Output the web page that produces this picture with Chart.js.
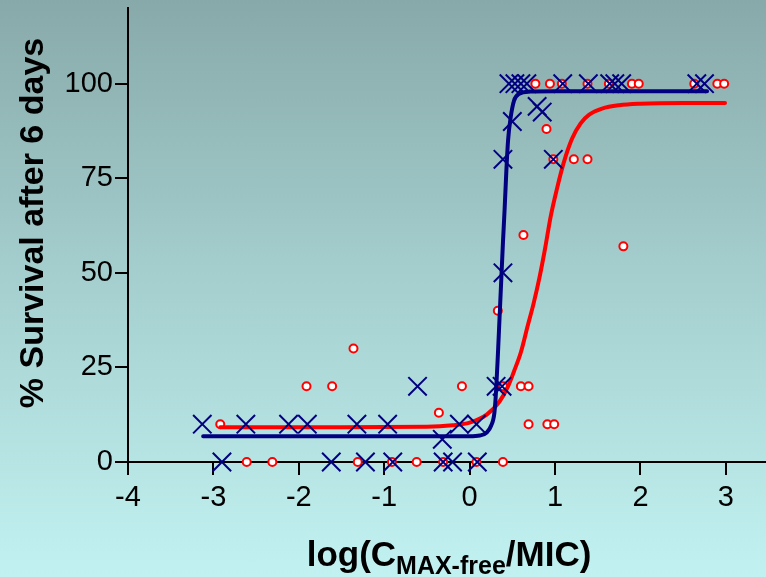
<!DOCTYPE html>
<html>
<head>
  <title>Survival vs log(Cmax-free/MIC)</title>
  <script src="https://cdn.jsdelivr.net/npm/chart.js@4.4.1/dist/chart.umd.min.js"></script>
  <style>
    html, body {
      margin: 0;
      padding: 0;
    }
    body {
      width: 766px;
      height: 577px;
      background: linear-gradient(to bottom, #88a9a9 0%, #a6d0d0 50%, #c1f2f1 100%);
      overflow: hidden;
    }
    #chart {
      display: block;
    }
  </style>
</head>
<body>
  <canvas id="chart" width="766" height="577"></canvas>

  <script>
    // open circles (red)
    const circleX = [0.77, 0.94, 1.08, 1.38, 1.63, 1.90, 1.98, 2.63, 2.90, 2.98,
                     0.90, 0.98, 1.22, 1.38, 0.63, 1.80, 0.33, -1.36,
                     -1.91, -1.61, -0.09, 0.39, 0.60, 0.69, -0.36,
                     -2.92, 0.69, 0.91, 0.99,
                     -2.61, -2.31, -1.31, -0.91, -0.62, -0.31, 0.08, 0.39];
    const circleY = [100, 100, 100, 100, 100, 100, 100, 100, 100, 100,
                     88, 80, 80, 80, 60, 57, 40, 30,
                     20, 20, 20, 20, 20, 20, 13,
                     10, 10, 10, 10,
                     0, 0, 0, 0, 0, 0, 0, 0];

    // crosses (navy)
    const crossX = [0.46, 0.53, 0.60, 0.67, 1.09, 1.39, 1.64, 1.70, 1.78, 2.66, 2.75,
                    0.79, 0.85, 0.50, 0.39, 0.98, 0.39,
                    -0.61, 0.31, 0.38,
                    -3.13, -2.62, -2.12, -1.90, -1.32, -0.96, -0.12, 0.08,
                    -0.32,
                    -2.90, -1.62, -1.22, -0.90, -0.31, -0.20, 0.09];
    const crossY = [100, 100, 100, 100, 100, 100, 100, 100, 100, 100, 100,
                    94, 92.5, 90, 80, 80, 50,
                    20, 20, 20,
                    10, 10, 10, 10, 10, 10, 10, 10,
                    6,
                    0, 0, 0, 0, 0, 0, 0];

    // fitted curves
    const circleFitX = [-2.92, -1.5, -0.5, -0.2, 0, 0.2, 0.35, 0.45, 0.52, 0.6, 0.68, 0.75, 0.82,
                        0.88, 0.95, 1.02, 1.1, 1.2, 1.3, 1.4, 1.55, 1.75, 2.0, 2.5, 2.99];
    const circleFitY = [9.2, 9.2, 9.3, 9.7, 10.4, 12.5, 16, 20, 24, 29, 36, 42, 49,
                        56, 65, 72, 79, 85.5, 89.5, 91.8, 93.4, 94.3, 94.7, 94.9, 94.9];
    const crossFitX = [-3.12, -1, 0, 0.12, 0.2, 0.25, 0.29, 0.31, 0.33, 0.35, 0.37, 0.39, 0.41,
                       0.43, 0.45, 0.48, 0.52, 0.58, 0.7, 1.0, 2.78];
    const crossFitY = [6.8, 6.8, 6.8, 7, 7.8, 9.5, 13, 19, 28, 38, 48, 58, 67,
                       77, 85, 91, 95.5, 97.3, 97.9, 98, 98];

    const xTicks = [-4, -3, -2, -1, 0, 1, 2, 3];
    const yTicks = [0, 25, 50, 75, 100];

    const yTitle = '% Survival after 6 days';
    const xTitleParts = ['log(C', 'MAX-free', '/MIC)'];

    const FONT = "'Liberation Sans', Arial, sans-serif";

    function pairs(xs, ys) {
      return xs.map((x, i) => ({ x: x, y: ys[i] }));
    }

    // the y axis runs past its last label, so no room is kept for it
    function noEndPadding(scale) {
      scale.getPadding = () => ({ left: 0, top: 0, right: 0, bottom: 0 });
    }

    // axis titles, the x one needs a subscript so it is drawn by hand
    const axisTitles = {
      id: 'axisTitles',
      afterDraw(chart) {
        const ctx = chart.ctx;
        ctx.save();
        ctx.fillStyle = '#000';
        ctx.textBaseline = 'alphabetic';

        ctx.save();
        ctx.translate(43, 223);
        ctx.rotate(-Math.PI / 2);
        ctx.font = 'bold 34px ' + FONT;
        ctx.textAlign = 'center';
        ctx.fillText(yTitle, 0, 0);
        ctx.restore();

        const mainFont = 'bold 35px ' + FONT;
        const subFont = 'bold 25px ' + FONT;
        ctx.font = mainFont;
        const w0 = ctx.measureText(xTitleParts[0]).width;
        const w2 = ctx.measureText(xTitleParts[2]).width;
        ctx.font = subFont;
        const w1 = ctx.measureText(xTitleParts[1]).width;
        let x = 449 - (w0 + w1 + w2) / 2;
        ctx.textAlign = 'left';
        ctx.font = mainFont;
        ctx.fillText(xTitleParts[0], x, 566);
        x += w0;
        ctx.font = subFont;
        ctx.fillText(xTitleParts[1], x, 574);
        x += w1;
        ctx.font = mainFont;
        ctx.fillText(xTitleParts[2], x, 566);
        ctx.restore();
      }
    };

    const ctx = document.getElementById('chart').getContext('2d');
    new Chart(ctx, {
      type: 'scatter',
      data: {
        datasets: [
          {
            label: 'cross fit',
            data: pairs(crossFitX, crossFitY),
            showLine: true,
            borderColor: '#000080',
            borderWidth: 4,
            pointRadius: 0,
            cubicInterpolationMode: 'monotone',
            borderCapStyle: 'round',
            clip: false,
            order: 0
          },
          {
            label: 'crosses',
            data: pairs(crossX, crossY),
            pointStyle: 'crossRot',
            pointRadius: 13,
            borderColor: '#000080',
            borderWidth: 2,
            clip: false,
            order: 1
          },
          {
            label: 'circle fit',
            data: pairs(circleFitX, circleFitY),
            showLine: true,
            borderColor: '#ff0000',
            borderWidth: 4,
            pointRadius: 0,
            cubicInterpolationMode: 'monotone',
            borderCapStyle: 'round',
            clip: false,
            order: 2
          },
          {
            label: 'circles',
            data: pairs(circleX, circleY),
            pointStyle: 'circle',
            pointRadius: 4,
            borderColor: '#ff0000',
            backgroundColor: '#ffffff',
            borderWidth: 2,
            clip: false,
            order: 3
          }
        ]
      },
      options: {
        responsive: false,
        animation: false,
        events: [],
        layout: {
          autoPadding: false,
          padding: { top: 8, right: 0, left: 0, bottom: 0 }
        },
        plugins: {
          legend: { display: false },
          tooltip: { enabled: false }
        },
        scales: {
          x: {
            type: 'linear',
            min: -4,
            max: 3.47,
            afterBuildTicks: (scale) => {
              scale.ticks = xTicks.map(v => ({ value: v }));
            },
            afterFit: (scale) => {
              scale.height = 115;
              noEndPadding(scale);
            },
            border: { display: true, color: '#000', width: 2 },
            grid: {
              drawOnChartArea: false,
              drawTicks: true,
              tickLength: 13,
              color: '#000',
              lineWidth: 2
            },
            ticks: {
              color: '#000',
              font: { family: FONT, size: 29 },
              padding: 6,
              maxRotation: 0
            }
          },
          y: {
            type: 'linear',
            min: 0,
            max: 120,
            afterBuildTicks: (scale) => {
              scale.ticks = yTicks.map(v => ({ value: v }));
            },
            afterFit: (scale) => {
              scale.width = 128;
              noEndPadding(scale);
            },
            border: { display: true, color: '#000', width: 2 },
            grid: {
              drawOnChartArea: false,
              drawTicks: true,
              tickLength: 13,
              color: '#000',
              lineWidth: 2
            },
            ticks: {
              color: '#000',
              font: { family: FONT, size: 29 },
              padding: 2
            }
          }
        }
      },
      plugins: [axisTitles]
    });
  </script>
</body>
</html>
